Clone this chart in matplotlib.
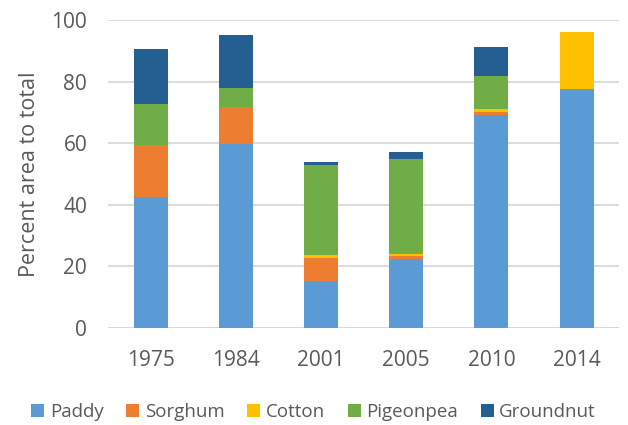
import matplotlib
matplotlib.use('Agg')
import matplotlib.pyplot as plt
import numpy as np

plt.rcParams['font.family'] = ['Open Sans', 'DejaVu Sans']

years = ['1975', '1984', '2001', '2005', '2010', '2014']
crops = ['Paddy', 'Sorghum', 'Cotton', 'Pigeonpea', 'Groundnut']
paddy = [42.4, 59.6, 15.3, 22.5, 69.0, 77.7]
sorghum = [17.0, 12.1, 7.3, 1.0, 1.2, 0.0]
cotton = [0.0, 0.0, 1.2, 0.5, 1.0, 18.4]
pigeonpea = [13.2, 6.2, 29.2, 31.0, 10.6, 0.0]
groundnut = [17.9, 17.1, 0.8, 2.0, 9.5, 0.0]
colors = ['#5B9BD5', '#ED7D31', '#FFC000', '#70AD47', '#255E91']

text_col = '#595959'

fig = plt.figure(figsize=(6.28, 4.25), dpi=100)
ax = fig.add_axes([0.172, 0.228, 0.814, 0.725])

x = np.arange(len(years))
bottom = np.zeros(len(years))
for name, vals, c in zip(crops, [paddy, sorghum, cotton, pigeonpea, groundnut], colors):
    ax.bar(x, vals, 0.4, bottom=bottom, color=c, label=name, zorder=3)
    bottom += np.array(vals)

ax.set_ylim(0, 100)
ax.set_xlim(-0.5, len(years) - 0.5)
ax.set_yticks(range(0, 101, 20))
ax.set_xticks(x)
ax.set_xticklabels(years)
ax.grid(axis='y', color='#D9D9D9', linewidth=1.3, zorder=0)
for s in ax.spines.values():
    s.set_visible(False)
ax.axhline(0, color='#D9D9D9', linewidth=1.3, zorder=1)
ax.tick_params(axis='both', length=0, labelsize=15, labelcolor=text_col)
ax.tick_params(axis='x', pad=16)
ax.tick_params(axis='y', pad=15)
ax.set_ylabel('Percent area to total', fontsize=15.5, color=text_col, labelpad=8)

ax.legend(loc='lower center', bbox_to_anchor=(0.402, -0.325), ncol=5, frameon=False,
          fontsize=13.5, labelcolor=text_col, handlelength=0.7, handleheight=0.7,
          handletextpad=0.3, columnspacing=1.2, borderaxespad=0)

fig.savefig('out.png', dpi=100)
